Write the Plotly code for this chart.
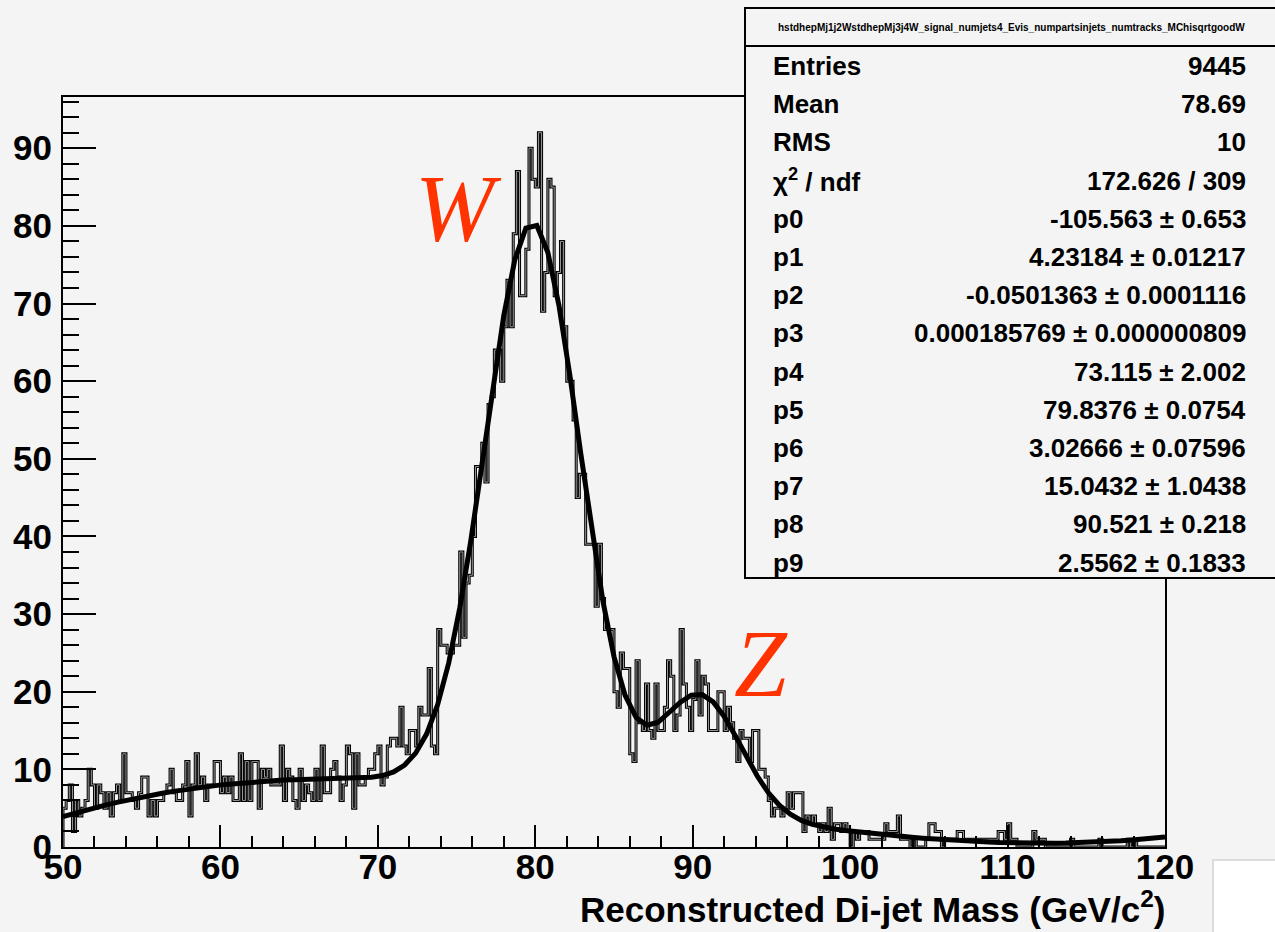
import numpy as np
import plotly.graph_objects as go

# ---- histogram: 350 bins of 0.2 GeV between 50 and 120 GeV/c^2 ----
x_low, x_high, n_bins = 50.0, 120.0, 350
counts = [
    5, 6, 8, 2, 6, 4, 5, 6, 10, 8,
    5, 8, 7, 5, 7, 4, 7, 8, 6, 12,
    7, 7, 6, 5, 7, 9, 9, 4, 6, 4,
    6, 6, 7, 8, 10, 7, 6, 6, 8, 11,
    4, 8, 12, 8, 9, 6, 8, 8, 11, 11,
    7, 9, 7, 9, 6, 6, 12, 6, 11, 6,
    11, 11, 5, 10, 9, 10, 8, 8, 8, 13,
    6, 10, 9, 6, 5, 10, 6, 8, 7, 6,
    10, 6, 13, 7, 7, 10, 11, 9, 6, 8,
    13, 12, 5, 12, 8, 8, 9, 10, 10, 12,
    13, 8, 9, 13, 14, 14, 13, 18, 13, 12,
    15, 15, 13, 18, 17, 17, 23, 13, 12, 28,
    26, 26, 25, 25, 26, 26, 38, 27, 34, 35,
    40, 49, 49, 52, 47, 57, 58, 64, 64, 60,
    67, 73, 67, 79, 87, 71, 71, 77, 90, 86,
    85, 92, 69, 74, 86, 85, 71, 74, 78, 67,
    60, 60, 55, 45, 48, 48, 39, 39, 39, 31,
    39, 32, 28, 28, 28, 20, 18, 25, 23, 23,
    12, 11, 24, 16, 15, 21, 15, 14, 21, 15,
    15, 18, 24, 22, 15, 17, 28, 21, 18, 15,
    19, 24, 17, 22, 21, 15, 15, 15, 20, 20,
    15, 18, 16, 14, 11, 15, 14, 14, 11, 15,
    15, 10, 10, 9, 6, 4, 5, 5, 4, 5,
    7, 5, 7, 7, 7, 2, 4, 3, 4, 3,
    2, 3, 2, 5, 1, 3, 3, 2, 3, 2,
    0, 2, 1, 2, 2, 2, 1, 1, 1, 1,
    1, 3, 2, 2, 2, 4, 1, 1, 1, 0,
    1, 0, 0, 0, 1, 3, 3, 2, 2, 0,
    1, 1, 1, 1, 2, 2, 1, 1, 1, 1,
    1, 1, 1, 1, 1, 1, 1, 2, 2, 1,
    3, 1, 1, 0, 0, 0, 0, 0, 2, 1,
    1, 1, 0, 0, 0, 0, 0, 0, 0, 0,
    1, 0, 0, 0, 0, 0, 0, 0, 0, 1,
    0, 0, 0, 0, 0, 0, 0, 0, 1, 0,
    1, 0, 0, 0, 0, 0, 0, 0, 0, 0,
]

# ---- fit: cubic background + two gaussians (W and Z) ----
par_names = ["p0", "p1", "p2", "p3", "p4", "p5", "p6", "p7", "p8", "p9"]
par_values = ["-105.563", "4.23184", "-0.0501363", "0.000185769", "73.115",
              "79.8376", "3.02666", "15.0432", "90.521", "2.5562"]
par_errors = ["0.653", "0.01217", "0.0001116", "0.000000809", "2.002",
              "0.0754", "0.07596", "1.0438", "0.218", "0.1833"]

hist_name = "hstdhepMj1j2WstdhepMj3j4W_signal_numjets4_Evis_numpartsinjets_numtracks_MChisqrtgoodW"
entries = "9445"
mean = "78.69"
rms = "10"
chi2 = "172.626"
ndf = "309"

x_tick_vals = [50, 60, 70, 80, 90, 100, 110, 120]
y_tick_vals = [0, 10, 20, 30, 40, 50, 60, 70, 80, 90]
x_title = "Reconstructed Di-jet Mass (GeV/c<sup>2</sup>)"

# ---- geometry ----
W, H = 1275, 932
L, R, T, B = 63, 110, 97, 85
pw, ph = W - L - R, H - T - B


def px(x):
    return (x - L) / pw


def py(y):
    return (H - B - y) / ph


BG = "#f4f4f4"
BOLD = dict(family="Liberation Sans, Arial, sans-serif", weight="bold", color="black")

edges = np.linspace(x_low, x_high, n_bins + 1)
c = np.asarray(counts, dtype=float)
step_x = np.repeat(edges, 2)
step_y = np.concatenate([[0.0], np.repeat(c, 2), [0.0]])

p = [float(v) for v in par_values]
fit_x = np.linspace(x_low, x_high, 101)
fit_y = (p[0] + p[1] * fit_x + p[2] * fit_x ** 2 + p[3] * fit_x ** 3
         + p[4] * np.exp(-0.5 * ((fit_x - p[5]) / p[6]) ** 2)
         + p[7] * np.exp(-0.5 * ((fit_x - p[8]) / p[9]) ** 2))

y_max = 1.05 * c.max()

fig = go.Figure()
fig.add_trace(go.Scatter(x=step_x, y=step_y, mode="lines",
                         line=dict(color="black", width=3), hoverinfo="skip",
                         showlegend=False))
fig.add_trace(go.Scatter(x=step_x, y=step_y, mode="lines",
                         line=dict(color="#9a9a9a", width=1), hoverinfo="skip",
                         showlegend=False))
fig.add_trace(go.Scatter(x=fit_x, y=fit_y, mode="lines",
                         line=dict(color="black", width=5), showlegend=False))

axis_common = dict(showline=True, linewidth=2, linecolor="black", mirror=True,
                   ticks="inside", tickwidth=2, tickcolor="black",
                   showgrid=False, zeroline=False,
                   tickfont=dict(size=35, **BOLD))

fig.update_xaxes(range=[x_low, x_high], tickvals=x_tick_vals, ticklen=22,
                 ticklabelstandoff=-12,
                 minor=dict(ticks="inside", ticklen=11, dtick=2, tickwidth=2,
                            tickcolor="black"),
                 **axis_common)
fig.update_yaxes(range=[0, y_max], tickvals=y_tick_vals, ticklen=33,
                 ticklabelstandoff=2,
                 minor=dict(ticks="inside", ticklen=16, dtick=2, tickwidth=2,
                            tickcolor="black"),
                 **axis_common)

shapes = []
annotations = []

# stats box
box_top, box_sep, box_bottom = 8, 46, 578
shapes.append(dict(type="rect", xref="paper", yref="paper",
                   x0=px(745), x1=px(1290), y0=py(box_bottom), y1=py(box_top),
                   fillcolor=BG, line=dict(color="black", width=2), layer="above"))
shapes.append(dict(type="line", xref="paper", yref="paper",
                   x0=px(745), x1=px(1290), y0=py(box_sep), y1=py(box_sep),
                   line=dict(color="black", width=2), layer="above"))
annotations.append(dict(xref="paper", yref="paper", x=px(1011), y=py(27),
                        text=hist_name, showarrow=False, xanchor="center",
                        yanchor="middle", font=dict(size=10, **BOLD)))

rows = [("Entries", entries), ("Mean", mean), ("RMS", rms),
        ("\u03c7<sup>2</sup> / ndf", f"{chi2} / {ndf}")]
rows += [(n, f"{v} \u00b1 {e}") for n, v, e in zip(par_names, par_values, par_errors)]
row_y0, row_dy = 66, 38.2
for i, (lab, val) in enumerate(rows):
    yy = py(row_y0 + i * row_dy)
    annotations.append(dict(xref="paper", yref="paper", x=px(771), y=yy, text=lab,
                            showarrow=False, xanchor="left", yanchor="middle",
                            font=dict(size=26, **BOLD)))
    annotations.append(dict(xref="paper", yref="paper", x=px(1248), y=yy, text=val,
                            showarrow=False, xanchor="right", yanchor="middle",
                            font=dict(size=26, **BOLD)))

# peak labels
peak_font = dict(family="Liberation Serif, Times New Roman, serif", size=95,
                 style="italic", color="#ff3300")
annotations.append(dict(xref="paper", yref="paper", x=px(458), y=py(209), text="W",
                        showarrow=False, xanchor="center", yanchor="middle",
                        font=peak_font))
annotations.append(dict(xref="paper", yref="paper", x=px(761), y=py(664), text="Z",
                        showarrow=False, xanchor="center", yanchor="middle",
                        font=peak_font))

# axis title
annotations.append(dict(xref="paper", yref="paper", x=px(1167), y=py(907),
                        text=x_title, showarrow=False, xanchor="right",
                        yanchor="middle", font=dict(size=35, **BOLD)))

# small white panel in the lower-right corner
shapes.append(dict(type="rect", xref="paper", yref="paper",
                   x0=px(1213), x1=px(1290), y0=py(945), y1=py(860),
                   fillcolor="white", line=dict(color="#dcdcdc", width=2),
                   layer="above"))

fig.update_layout(width=W, height=H, margin=dict(l=L, r=R, t=T, b=B),
                  paper_bgcolor=BG, plot_bgcolor=BG, showlegend=False,
                  shapes=shapes, annotations=annotations)

fig.write_html("out.html")
